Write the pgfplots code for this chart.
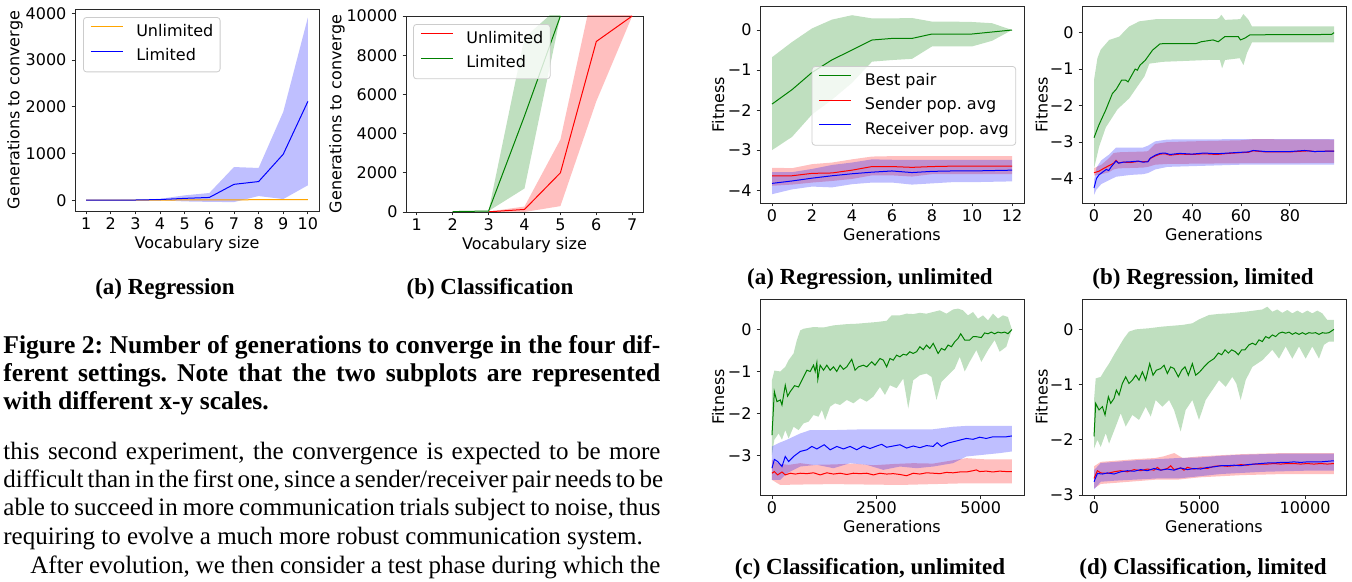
\documentclass[border=0pt]{standalone}
\usepackage{pgfplots}
\pgfplotsset{compat=1.18}
\usepackage{fontspec}
\setmainfont{Liberation Serif}
\setsansfont{DejaVu Sans}
\definecolor{mplgreen}{RGB}{0,128,0}
\definecolor{mplorange}{RGB}{255,165,0}
\definecolor{spine}{RGB}{40,40,40}
\newcommand{\pf}{\sffamily\fontsize{8}{9.6}\selectfont}
\newcommand{\bodyf}{\fontsize{12.5}{13.6}\selectfont}
\newcommand{\capf}{\fontsize{12.8}{14}\selectfont\bfseries}
\newcommand{\subf}{\fontsize{11.5}{13}\selectfont\bfseries}
\pgfplotsset{
  mpl/.style={
    scale only axis,
    scaled ticks=false,
    axis line style={spine, line width=0.45pt},
    every tick/.style={spine, line width=0.45pt},
    tick align=outside,
    major tick length=1.75pt,
    xtick pos=bottom, ytick pos=left,
    font=\pf,
    tick label style={font=\pf, text=black},
    xticklabel style={yshift=2pt},
    yticklabel style={xshift=1pt},
    label style={font=\pf},
    legend cell align=left,
    legend style={draw=black!20, line width=0.4pt, rounded corners=1.5pt, fill=white, fill opacity=0.8, text opacity=1, draw opacity=1, font=\pf, inner xsep=3.4pt, inner ysep=3.4pt, row sep=4pt, nodes={inner sep=0pt, text height=6pt, text depth=2.2pt}, /tikz/every odd column/.append style={column sep=6.4pt}},
  },
  band/.style={draw=none, fill=#1, fill opacity=0.25, forget plot},
  ln/.style={color=#1, line width=0.5pt, forget plot},
  lgimg/.style={legend image code/.code={\draw[draw=#1, line width=0.6pt, draw opacity=1] (0pt,2.8pt) -- (16pt,2.8pt);}},
}
\begin{document}
\frenchspacing
\begin{tikzpicture}
\useasboundingbox (0pt,0pt) rectangle (676pt,-291pt);

% ---------------- (a) Regression: generations to converge
\begin{axis}[mpl, at={(37.5pt,-105.5pt)}, anchor=south west, width=122pt, height=101pt,
  xmin=0.55, xmax=10.45, ymin=-230, ymax=4090,
  xtick={1,...,10}, xticklabels={1,2,3,4,5,6,7,8,9,10},
  ytick={0,1000,2000,3000,4000}, yticklabels={0,1000,2000,3000,4000},
  xlabel={Vocabulary size}, ylabel={Generations to converge},
  xlabel style={at={(axis description cs:0.5,-0.166)}, anchor=center},
  ylabel style={at={(axis description cs:-0.246,0.5)}, anchor=center},
  legend style={at={(0.033,0.96)}, anchor=north west}]
\addplot[band=mplorange] coordinates {(1,1)(2,1)(3,5)(4,8)(5,12)(6,15)(7,18)(8,20)(9,22)(10,25)(10,5)(9,5)(8,4)(7,3)(6,2)(5,1)(4,0)(3,0)(2,-1)(1,-1)};
\addplot[band=blue] coordinates {(1,0)(2,2)(3,10)(4,30)(5,105)(6,155)(7,710)(8,690)(9,1890)(10,3910)(10,320)(9,25)(8,90)(7,-40)(6,-35)(5,-25)(4,0)(3,0)(2,-2)(1,0)};
\addplot[ln=mplorange] coordinates {(1,0)(2,0)(3,2)(4,4)(5,6)(6,8)(7,10)(8,11)(9,12)(10,14)};
\addplot[ln=blue] coordinates {(1,0)(2,0)(3,5)(4,15)(5,40)(6,60)(7,340)(8,400)(9,985)(10,2115)};
\addlegendimage{lgimg=mplorange}
\addlegendentry{Unlimited}
\addlegendimage{lgimg=blue}
\addlegendentry{Limited}
\end{axis}

% ---------------- (b) Classification: generations to converge
\begin{axis}[mpl, at={(203pt,-106pt)}, anchor=south west, width=118.5pt, height=98pt,
  xmin=0.7, xmax=7.3, ymin=0, ymax=10000,
  xtick={1,...,7}, xticklabels={1,2,3,4,5,6,7},
  ytick={0,2000,4000,6000,8000,10000}, yticklabels={0,2000,4000,6000,8000,10000},
  xlabel={Vocabulary size}, ylabel={Generations to converge},
  xlabel style={at={(axis description cs:0.5,-0.171)}, anchor=center},
  ylabel style={at={(axis description cs:-0.291,0.5)}, anchor=center},
  legend style={at={(0.03,0.959)}, anchor=north west}]
\addplot[band=red] coordinates {(3,20)(4,280)(5,3700)(6,12100)(7,10000)(6,5650)(5,300)(4,0)(3,0)};
\addplot[band=mplgreen] coordinates {(2,20)(3,50)(4,8900)(5,10520)(5,10000)(4,1200)(3,50)(2,20)};
\addplot[ln=red] coordinates {(3,10)(4,130)(5,2000)(6,8700)(7,10000)};
\addplot[ln=mplgreen] coordinates {(2,20)(3,50)(4,4900)(5,10000)};
\addlegendimage{lgimg=red}
\addlegendentry{Unlimited}
\addlegendimage{lgimg=mplgreen}
\addlegendentry{Limited}
\end{axis}

% ---------------- (a) Regression, unlimited: fitness
\begin{axis}[mpl, at={(380pt,-101.5pt)}, anchor=south west, width=132pt, height=98.5pt,
  xmin=-0.6, xmax=12.6, ymin=-4.32, ymax=0.6,
  xtick={0,2,4,6,8,10,12}, xticklabels={0,2,4,6,8,10,12},
  ytick={-4,-3,-2,-1,0}, yticklabels={−4,−3,−2,−1,0},
  xlabel={Generations}, ylabel={Fitness},
  xlabel style={at={(axis description cs:0.5,-0.162)}, anchor=center},
  ylabel style={at={(axis description cs:-0.159,0.5)}, anchor=center},
  legend style={at={(0.97,0.695)}, anchor=north east}]
\addplot[band=mplgreen] coordinates {(0,-0.68)(1,-0.3)(2,0.04)(3,0.26)(4,0.37)(5,0.29)(6,0.29)(7,0.3)(8,0.21)(9,0.21)(10,0.2)(11,0.17)(12,0)(12,0)(11,-0.27)(10,-0.41)(9,-0.41)(8,-0.41)(7,-0.72)(6,-0.75)(5,-0.79)(4,-1.32)(3,-1.74)(2,-2.11)(1,-2.67)(0,-3.0)};
\addplot[band=red] coordinates {(0,-3.44)(1,-3.45)(2,-3.35)(3,-3.31)(4,-3.23)(5,-3.16)(6,-3.15)(7,-3.15)(8,-3.15)(9,-3.15)(10,-3.15)(11,-3.15)(12,-3.15)(12,-3.6)(11,-3.6)(10,-3.6)(9,-3.6)(8,-3.6)(7,-3.66)(6,-3.63)(5,-3.63)(4,-3.72)(3,-3.77)(2,-3.81)(1,-3.86)(0,-3.89)};
\addplot[band=blue] coordinates {(0,-3.55)(1,-3.55)(2,-3.47)(3,-3.37)(4,-3.31)(5,-3.23)(6,-3.24)(7,-3.24)(8,-3.24)(9,-3.24)(10,-3.24)(11,-3.24)(12,-3.24)(12,-3.78)(11,-3.79)(10,-3.8)(9,-3.8)(8,-3.83)(7,-3.86)(6,-3.81)(5,-3.81)(4,-3.85)(3,-3.93)(2,-3.91)(1,-3.98)(0,-4.1)};
\addplot[ln=mplgreen] coordinates {(0,-1.85)(1,-1.49)(2,-1.06)(3,-0.745)(4,-0.5)(5,-0.25)(6,-0.21)(7,-0.21)(8,-0.1)(9,-0.1)(10,-0.1)(11,-0.05)(12,0)};
\addplot[ln=red] coordinates {(0,-3.64)(1,-3.64)(2,-3.58)(3,-3.57)(4,-3.5)(5,-3.41)(6,-3.41)(7,-3.43)(8,-3.41)(9,-3.4)(10,-3.4)(11,-3.4)(12,-3.4)};
\addplot[ln=blue] coordinates {(0,-3.83)(1,-3.77)(2,-3.70)(3,-3.64)(4,-3.59)(5,-3.55)(6,-3.52)(7,-3.56)(8,-3.53)(9,-3.52)(10,-3.52)(11,-3.51)(12,-3.5)};
\addlegendimage{lgimg=mplgreen}
\addlegendentry{Best pair}
\addlegendimage{lgimg=red}
\addlegendentry{Sender pop. avg}
\addlegendimage{lgimg=blue}
\addlegendentry{Receiver pop. avg}
\end{axis}

% ---------------- (b) Regression, limited: fitness
\begin{axis}[mpl, at={(541pt,-101.5pt)}, anchor=south west, width=132pt, height=98.5pt,
  xmin=-4.9, xmax=102.9, ymin=-4.67, ymax=0.73,
  xtick={0,20,40,60,80}, xticklabels={0,20,40,60,80},
  ytick={-4,-3,-2,-1,0}, yticklabels={−4,−3,−2,−1,0},
  xlabel={Generations}, ylabel={Fitness},
  xlabel style={at={(axis description cs:0.5,-0.162)}, anchor=center},
  ylabel style={at={(axis description cs:-0.153,0.5)}, anchor=center}]
\addplot[band=mplgreen] coordinates {(0,-1.3)(1.4,-0.7)(2.7,-0.47)(6.2,-0.2)(10.3,-0.11)(12.3,0.03)(14.4,0.17)(18.5,0.31)(25.4,0.37)(50,0.37)(51,0.4)(52,0.49)(53.5,0.35)(59.7,0.37)(61,0.51)(63.1,0.35)(64.5,0.17)(98,0.17)(98,-0.27)(64.5,-0.27)(62.5,-0.55)(61,-0.89)(59.5,-0.7)(53.5,-0.75)(52.3,-0.98)(51.4,-0.75)(46.6,-0.75)(28.1,-0.8)(22.6,-0.85)(20.6,-1.2)(18.5,-1.4)(14.4,-1.8)(9.6,-2.1)(4.8,-2.6)(2.06,-3.13)(0,-3.73)};
\addplot[band=red] coordinates {(0,-3.72)(3,-3.62)(6,-3.45)(8,-3.3)(10,-3.28)(20,-3.26)(22,-3.25)(25,-3.05)(30,-3.0)(40,-2.98)(60,-2.95)(65,-2.92)(98,-2.93)(98,-3.57)(60,-3.58)(30,-3.6)(25,-3.62)(22,-3.68)(20,-3.7)(10,-3.72)(8,-3.75)(6,-3.83)(3,-3.88)(0,-3.92)};
\addplot[band=blue] coordinates {(0,-4.05)(1,-3.7)(3,-3.5)(6,-3.35)(9,-3.15)(20,-3.15)(22,-3.1)(25,-2.98)(30,-2.93)(60,-2.92)(98,-2.92)(98,-3.62)(60,-3.62)(30,-3.68)(25,-3.75)(22,-3.85)(20,-3.88)(15,-3.9)(9,-3.95)(6,-4.05)(3,-4.15)(1,-4.3)(0,-4.45)};
\addplot[ln=mplgreen] coordinates {(0,-2.88)(2,-2.53)(4.8,-2.12)(7.5,-1.67)(9.1,-1.55)(11.3,-1.3)(12.9,-1.3)(13.9,-1.35)(16.8,-1.0)(17.7,-1.03)(18.8,-0.89)(20.9,-0.76)(23.9,-0.48)(26.9,-0.31)(28.7,-0.3)(41.7,-0.3)(43.8,-0.25)(48.6,-0.2)(50.7,-0.25)(53.4,-0.11)(58.9,-0.11)(59.8,-0.2)(61.6,-0.15)(63.7,-0.06)(97,-0.05)(98,0)};
\addplot[ln=red] coordinates {(0,-3.84)(1,-3.82)(2,-3.8)(4,-3.72)(6,-3.65)(8,-3.58)(9,-3.5)(10,-3.57)(12,-3.55)(15,-3.56)(18,-3.53)(20,-3.54)(22,-3.53)(23,-3.45)(25,-3.38)(27,-3.33)(29,-3.32)(31,-3.36)(35,-3.33)(40,-3.34)(45,-3.32)(50,-3.34)(55,-3.31)(60,-3.29)(63,-3.28)(65,-3.24)(70,-3.27)(80,-3.27)(85,-3.25)(88,-3.24)(90,-3.26)(95,-3.25)(98,-3.25)};
\addplot[ln=blue] coordinates {(0,-4.26)(1,-4.0)(2,-3.9)(3,-3.85)(4,-3.8)(5,-3.75)(6,-3.78)(7,-3.68)(8,-3.6)(9,-3.52)(10,-3.58)(12,-3.55)(15,-3.54)(18,-3.52)(20,-3.55)(22,-3.54)(23,-3.44)(25,-3.36)(27,-3.31)(29,-3.3)(31,-3.34)(35,-3.31)(40,-3.33)(45,-3.3)(50,-3.32)(55,-3.3)(60,-3.28)(63,-3.27)(65,-3.23)(70,-3.26)(80,-3.26)(86,-3.23)(90,-3.26)(95,-3.25)(98,-3.25)};
\end{axis}

% ---------------- (c) Classification, unlimited: fitness
\begin{axis}[mpl, at={(380pt,-247.5pt)}, anchor=south west, width=132pt, height=98pt,
  xmin=-287, xmax=6037, ymin=-3.95, ymax=0.73,
  xtick={0,2500,5000}, xticklabels={0,2500,5000},
  ytick={-3,-2,-1,0}, yticklabels={−3,−2,−1,0},
  xlabel={Generations}, ylabel={Fitness},
  xlabel style={at={(axis description cs:0.5,-0.162)}, anchor=center},
  ylabel style={at={(axis description cs:-0.159,0.5)}, anchor=center}]
\addplot[band=mplgreen] coordinates {(0,-1.21)(56,-0.98)(199,-1.0)(318,-0.89)(398,-0.73)(517,-0.57)(597,-0.25)(677,-0.02)(756,0.02)(995,0.06)(1234,0.05)(1473,0.1)(1791,0.13)(2030,0.14)(2269,0.16)(2507,0.18)(2746,0.21)(2866,0.34)(3065,0.34)(3224,0.38)(3383,0.37)(3542,0.4)(3701,0.38)(3861,0.42)(4020,0.46)(4179,0.38)(4338,0.48)(4458,0.5)(4577,0.46)(4696,0.34)(4816,0.42)(4935,0.26)(5055,0.34)(5174,0.22)(5293,0.38)(5413,0.26)(5532,0.34)(5652,0.3)(5747,0)(5612,-0.41)(5453,-0.53)(5333,-0.25)(5174,-0.49)(5015,-0.77)(4895,-0.49)(4736,-0.77)(4617,-1.0)(4497,-0.65)(4378,-0.93)(4219,-1.09)(4060,-1.25)(3940,-1.68)(3821,-1.13)(3701,-1.05)(3542,-1.09)(3383,-1.21)(3264,-1.88)(3144,-1.17)(2985,-1.4)(2826,-1.33)(2706,-1.56)(2587,-1.37)(2428,-1.6)(2269,-1.72)(2109,-1.64)(1950,-1.76)(1791,-1.68)(1632,-1.8)(1512,-1.76)(1393,-1.84)(1274,-2.16)(1194,-1.92)(1114,-2.08)(995,-2.04)(876,-2.2)(756,-2.24)(637,-2.4)(517,-2.32)(398,-2.6)(318,-2.4)(239,-2.63)(159,-2.48)(56,-2.63)(0,-2.99)};
\addplot[band=red] coordinates {(0,-3.11)(159,-3.2)(398,-3.23)(677,-3.19)(995,-3.23)(1473,-3.22)(1950,-3.2)(2428,-3.24)(2905,-3.21)(3383,-3.19)(3861,-3.2)(4338,-3.12)(4657,-3.07)(5134,-3.1)(5747,-3.1)(5747,-3.67)(4657,-3.67)(3861,-3.69)(3065,-3.71)(2269,-3.7)(1473,-3.69)(677,-3.7)(199,-3.71)(0,-3.59)};
\addplot[band=blue] coordinates {(0,-2.79)(159,-2.71)(358,-2.63)(677,-2.48)(915,-2.4)(1473,-2.4)(2269,-2.38)(3065,-2.38)(3861,-2.38)(4338,-2.32)(4657,-2.3)(5747,-2.3)(5747,-2.91)(5453,-2.95)(5055,-2.99)(4657,-3.03)(4338,-3.19)(3861,-3.27)(3463,-3.31)(3065,-3.27)(2667,-3.35)(2269,-3.23)(1871,-3.19)(1473,-3.31)(1075,-3.23)(677,-3.27)(358,-3.43)(199,-3.59)(0,-3.59)};
\addplot[ln=mplgreen] coordinates {(0,-2.52)(56,-1.48)(119,-1.72)(199,-1.68)(239,-1.80)(318,-1.33)(374,-1.59)(438,-1.48)(541,-1.34)(637,-1.37)(756,-1.13)(836,-0.97)(915,-1.0)(995,-0.85)(1035,-1.0)(1075,-0.79)(1098,-1.19)(1154,-0.85)(1234,-0.97)(1313,-0.85)(1393,-0.97)(1473,-0.89)(1552,-1.0)(1632,-0.85)(1711,-0.95)(1791,-0.89)(1910,-0.71)(1990,-0.97)(2070,-0.89)(2189,-0.85)(2269,-0.89)(2388,-0.77)(2468,-0.85)(2587,-0.69)(2667,-0.73)(2746,-0.89)(2826,-0.69)(2905,-0.73)(2985,-0.61)(3065,-0.65)(3144,-0.59)(3224,-0.61)(3303,-0.53)(3383,-0.57)(3463,-0.53)(3542,-0.41)(3622,-0.48)(3701,-0.37)(3781,-0.45)(3861,-0.33)(3980,-0.57)(4060,-0.45)(4139,-0.49)(4219,-0.37)(4298,-0.41)(4378,-0.29)(4458,-0.21)(4521,-0.1)(4617,-0.25)(4736,-0.25)(4816,-0.17)(4895,-0.17)(5015,-0.19)(5094,-0.08)(5174,-0.1)(5254,-0.06)(5333,-0.1)(5413,-0.06)(5492,-0.08)(5572,-0.06)(5652,-0.1)(5747,0)};
\addplot[ln=red] coordinates {(0,-3.43)(56,-3.39)(135,-3.47)(239,-3.4)(318,-3.47)(438,-3.43)(557,-3.45)(677,-3.43)(836,-3.44)(995,-3.42)(1154,-3.47)(1313,-3.42)(1473,-3.45)(1632,-3.43)(1791,-3.46)(1950,-3.43)(2109,-3.44)(2269,-3.43)(2428,-3.47)(2587,-3.43)(2746,-3.45)(2905,-3.44)(3065,-3.46)(3224,-3.49)(3383,-3.43)(3542,-3.45)(3701,-3.42)(3861,-3.43)(4020,-3.44)(4179,-3.41)(4338,-3.42)(4497,-3.4)(4657,-3.4)(4816,-3.37)(4895,-3.35)(4975,-3.39)(5134,-3.38)(5293,-3.4)(5453,-3.38)(5612,-3.39)(5747,-3.39)};
\addplot[ln=blue] coordinates {(0,-3.31)(56,-3.10)(135,-3.15)(239,-3.27)(318,-3.03)(398,-3.15)(517,-3.03)(677,-2.91)(836,-2.87)(955,-2.79)(1075,-2.85)(1250,-2.75)(1393,-2.87)(1552,-2.79)(1711,-2.85)(1871,-2.79)(2030,-2.87)(2189,-2.78)(2348,-2.84)(2507,-2.78)(2627,-2.74)(2746,-2.81)(2905,-2.78)(3065,-2.75)(3224,-2.83)(3383,-2.78)(3542,-2.82)(3701,-2.77)(3861,-2.79)(3956,-2.70)(4060,-2.79)(4219,-2.71)(4378,-2.67)(4537,-2.63)(4657,-2.6)(4816,-2.62)(4975,-2.57)(5134,-2.6)(5293,-2.56)(5453,-2.56)(5612,-2.56)(5747,-2.54)};
\end{axis}

% ---------------- (d) Classification, limited: fitness
\begin{axis}[mpl, at={(541pt,-247.5pt)}, anchor=south west, width=132pt, height=98pt,
  xmin=-570, xmax=11940, ymin=-3.0, ymax=0.55,
  xtick={0,5000,10000}, xticklabels={0,5000,10000},
  ytick={-3,-2,-1,0}, yticklabels={−3,−2,−1,0},
  xlabel={Generations}, ylabel={Fitness},
  xlabel style={at={(axis description cs:0.5,-0.162)}, anchor=center},
  ylabel style={at={(axis description cs:-0.153,0.5)}, anchor=center}]
\addplot[band=mplgreen] coordinates {(0,-1.28)(79,-0.89)(316,-0.86)(553,-0.71)(711,-0.62)(947,-0.46)(1184,-0.31)(1421,-0.16)(1658,-0.04)(1974,0)(2605,0.02)(3237,0.05)(4184,0.08)(4658,0.11)(4974,0.18)(5448,0.26)(5921,0.28)(6395,0.29)(7184,0.32)(7974,0.36)(8211,0.41)(8448,0.32)(8685,0.36)(8921,0.3)(9158,0.35)(9395,0.29)(9632,0.34)(9869,0.29)(10106,0.34)(10342,0.29)(10579,0.34)(10816,0.29)(11053,0.17)(11369,0.17)(11369,-0.22)(11132,-0.22)(10895,-0.28)(10658,-0.53)(10342,-0.31)(10027,-0.53)(9711,-0.31)(9395,-0.53)(9079,-0.31)(8764,-0.53)(8448,-0.37)(7974,-0.56)(7500,-0.68)(7184,-0.92)(6948,-1.28)(6742,-0.98)(6553,-0.86)(6237,-1.04)(5921,-0.92)(5606,-1.1)(5290,-1.28)(4974,-1.64)(4658,-1.28)(4342,-1.46)(4105,-1.85)(3790,-1.46)(3553,-1.28)(3237,-1.4)(2921,-1.28)(2684,-1.58)(2447,-1.4)(2132,-1.64)(1816,-1.55)(1500,-1.76)(1263,-1.52)(1026,-1.76)(711,-2.07)(553,-1.88)(316,-2.13)(158,-2.0)(0,-2.16)};
\addplot[band=red] coordinates {(0,-2.48)(316,-2.4)(1000,-2.38)(2000,-2.35)(2900,-2.33)(3300,-2.3)(3800,-2.24)(4200,-2.33)(5000,-2.3)(6000,-2.28)(7000,-2.26)(8000,-2.25)(9000,-2.24)(10000,-2.24)(11369,-2.24)(11369,-2.62)(10000,-2.62)(9000,-2.62)(8000,-2.63)(7000,-2.64)(6000,-2.66)(5000,-2.68)(4000,-2.72)(3000,-2.72)(2000,-2.75)(1000,-2.78)(316,-2.8)(0,-2.88)};
\addplot[band=blue] coordinates {(0,-2.55)(316,-2.42)(1000,-2.4)(2000,-2.37)(3000,-2.35)(4000,-2.33)(5000,-2.32)(6000,-2.29)(7000,-2.27)(8000,-2.26)(9000,-2.25)(10000,-2.25)(11369,-2.25)(11369,-2.56)(10000,-2.56)(9000,-2.57)(8000,-2.58)(7000,-2.6)(6000,-2.62)(5000,-2.66)(4000,-2.7)(3000,-2.7)(2000,-2.72)(1000,-2.74)(316,-2.76)(0,-2.9)};
\addplot[ln=mplgreen] coordinates {(0,-1.94)(79,-1.34)(237,-1.46)(395,-1.40)(521,-1.55)(679,-1.22)(790,-1.34)(947,-1.25)(1058,-1.10)(1184,-1.19)(1342,-0.98)(1500,-0.86)(1658,-0.98)(1816,-0.92)(1974,-0.83)(2132,-0.92)(2290,-0.77)(2447,-0.92)(2637,-0.62)(2795,-0.83)(2953,-0.74)(3158,-0.71)(3316,-0.65)(3474,-0.80)(3632,-0.68)(3790,-0.71)(3995,-0.86)(4153,-0.74)(4311,-0.68)(4469,-0.83)(4658,-0.62)(4816,-0.83)(5006,-0.77)(5211,-0.68)(5448,-0.59)(5685,-0.53)(5890,-0.43)(6048,-0.46)(6206,-0.37)(6364,-0.43)(6522,-0.37)(6680,-0.40)(6837,-0.46)(6995,-0.37)(7153,-0.37)(7342,-0.28)(7500,-0.25)(7658,-0.28)(7816,-0.19)(7974,-0.22)(8132,-0.13)(8290,-0.16)(8448,-0.10)(8606,-0.13)(8764,-0.07)(8921,-0.05)(9079,-0.07)(9237,-0.05)(9395,-0.09)(9553,-0.06)(9711,-0.09)(9869,-0.06)(10027,-0.09)(10185,-0.06)(10342,-0.07)(10500,-0.06)(10658,-0.09)(10816,-0.06)(10974,-0.07)(11132,-0.06)(11369,0)};
\addplot[ln=red] coordinates {(0,-2.70)(158,-2.56)(316,-2.6)(632,-2.61)(947,-2.58)(1263,-2.56)(1579,-2.58)(1895,-2.54)(2210,-2.56)(2526,-2.53)(2842,-2.55)(3000,-2.5)(3158,-2.55)(3474,-2.52)(3632,-2.47)(3790,-2.54)(4105,-2.51)(4263,-2.55)(4421,-2.5)(4737,-2.53)(5053,-2.51)(5369,-2.52)(5685,-2.48)(6000,-2.47)(6316,-2.48)(6632,-2.47)(6948,-2.45)(7263,-2.46)(7579,-2.44)(7895,-2.44)(8211,-2.44)(8526,-2.43)(8842,-2.44)(9158,-2.43)(9474,-2.43)(9790,-2.44)(10105,-2.43)(10421,-2.44)(10737,-2.43)(11053,-2.44)(11369,-2.43)};
\addplot[ln=blue] coordinates {(0,-2.76)(158,-2.61)(395,-2.62)(632,-2.6)(947,-2.62)(1263,-2.58)(1579,-2.56)(1895,-2.57)(2210,-2.54)(2526,-2.56)(2842,-2.52)(3158,-2.55)(3474,-2.53)(3790,-2.55)(4105,-2.51)(4421,-2.54)(4737,-2.52)(5053,-2.53)(5369,-2.5)(5685,-2.49)(6000,-2.47)(6316,-2.47)(6632,-2.46)(6948,-2.47)(7263,-2.45)(7579,-2.44)(7895,-2.43)(8211,-2.42)(8526,-2.42)(8842,-2.41)(9158,-2.41)(9474,-2.40)(9790,-2.41)(10105,-2.40)(10421,-2.40)(10737,-2.40)(11053,-2.39)(11369,-2.38)};
\end{axis}

% ---------------- captions and text
\begin{scope}[every node/.style={inner sep=0pt}]
\node[anchor=base, font=\subf] at (82.5pt,-147pt) {(a) Regression};
\node[anchor=base, font=\subf] at (245pt,-147pt) {(b) Classification};
\node[anchor=base, font=\subf] at (435pt,-142.5pt) {(a) Regression, unlimited};
\node[anchor=base, font=\subf] at (601.5pt,-142.5pt) {(b) Regression, limited};
\node[anchor=base, font=\subf] at (435pt,-287pt) {(c) Classification, unlimited};
\node[anchor=base, font=\subf] at (601.5pt,-287pt) {(d) Classification, limited};
\node[anchor=base west, font=\capf] at (1.5pt,-176.5pt) {\makebox[328.5pt][s]{Figure 2: Number of generations to converge in the four dif-}};
\node[anchor=base west, font=\capf] at (1.5pt,-190.5pt) {\makebox[328.5pt][s]{ferent settings. Note that the two subplots are represented}};
\node[anchor=base west, font=\capf] at (1.5pt,-204.5pt) {with different x-y scales.};
\node[anchor=base west, font=\bodyf] at (1.5pt,-229.5pt) {\makebox[328.5pt][s]{this second experiment, the convergence is expected to be more}};
\node[anchor=base west, font=\bodyf] at (1.5pt,-243.5pt) {\makebox[328.5pt][s]{difficult than in the first one, since a sender/receiver pair needs to be}};
\node[anchor=base west, font=\bodyf] at (1.5pt,-257.5pt) {\makebox[328.5pt][s]{able to succeed in more communication trials subject to noise, thus}};
\node[anchor=base west, font=\bodyf] at (1.5pt,-272pt) {requiring to evolve a much more robust communication system.};
\node[anchor=base west, font=\bodyf] at (15pt,-286.5pt) {\makebox[315pt][s]{After evolution, we then consider a test phase during which the}};
\end{scope}
\end{tikzpicture}
\end{document}
